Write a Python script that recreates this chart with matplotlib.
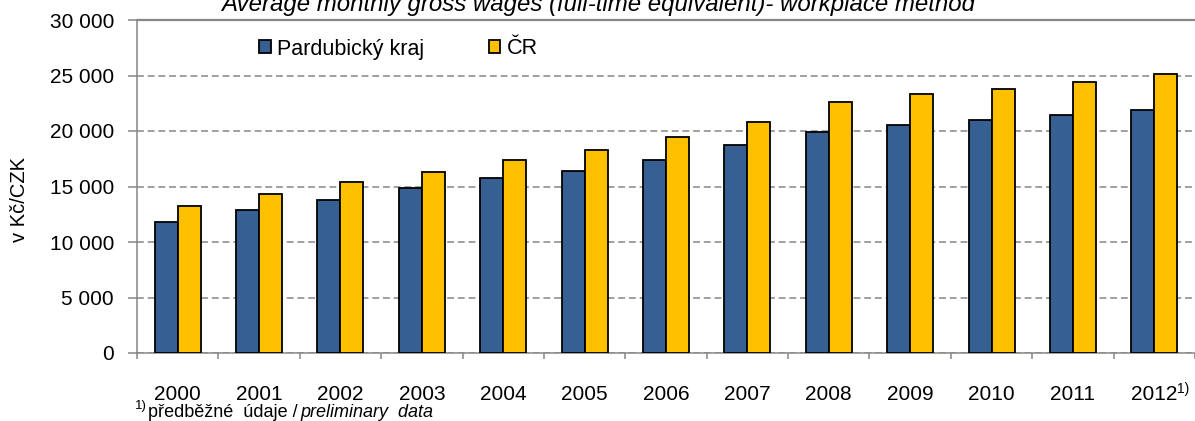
import numpy as np
import matplotlib
matplotlib.use("Agg")
from matplotlib import pyplot as plt

years = ["2000", "2001", "2002", "2003", "2004", "2005", "2006",
         "2007", "2008", "2009", "2010", "2011", "2012"]
pardubice = [11800, 12900, 13800, 14900, 15800, 16400, 17400,
             18700, 19900, 20500, 21000, 21400, 21900]
cr = [13200, 14300, 15400, 16300, 17400, 18300, 19500,
      20800, 22600, 23300, 23800, 24400, 25100]
yticks = [0, 5000, 10000, 15000, 20000, 25000, 30000]
ytick_labels = ["0", "5 000", "10 000", "15 000", "20 000", "25 000", "30 000"]

plt.rcParams["font.family"] = ["Liberation Sans", "DejaVu Sans"]

GREY = "#868686"
W, H = 1195, 421

fig = plt.figure(figsize=(W / 100, H / 100), dpi=100)
ax = fig.add_axes([137 / W, 68 / H, 1058 / W, 333 / H])

x = np.arange(len(years))
w = 0.283
ax.bar(x - w / 2, pardubice, w, color="#376092", edgecolor="black",
       linewidth=1.3, label="Pardubický kraj", zorder=3)
ax.bar(x + w / 2, cr, w, color="#FFC000", edgecolor="black",
       linewidth=1.3, label="ČR", zorder=3)

ax.set_xlim(-0.5, len(years) - 0.5)
ax.set_ylim(0, 30000)
ax.set_yticks(yticks, ytick_labels)
ax.set_xticks(x, years)
ax.set_xticks(np.arange(len(years) + 1) - 0.5, minor=True)
ax.tick_params(axis="x", which="major", length=0, pad=23, labelsize=15)
ax.tick_params(axis="x", which="minor", length=4, color=GREY, width=1.1)
ax.tick_params(axis="y", length=6.5, color=GREY, width=1.1, pad=10,
               labelsize=15)

ax.yaxis.grid(True, color=GREY, linestyle=(0, (4.5, 2.5)), linewidth=1.1)
ax.set_axisbelow(True)

for side in ["left", "bottom"]:
    ax.spines[side].set_color(GREY)
    ax.spines[side].set_linewidth(1.1)
ax.spines["top"].set_color(GREY)
ax.spines["top"].set_linewidth(1.6)
ax.spines["right"].set_visible(False)

# superscript on last year
ax.annotate("1)", xy=(12, 0), xycoords=ax.get_xaxis_transform(),
            xytext=(16, -21), textcoords="offset points",
            ha="left", va="top", fontsize=10)

ax.legend(loc="center left", bbox_to_anchor=(259 / W, 1 - 49 / H),
          bbox_transform=fig.transFigure, ncol=2, frameon=False,
          fontsize=15.5, handlelength=0.55, handleheight=0.55,
          handletextpad=0.28, columnspacing=3.0, borderpad=0,
          borderaxespad=0)

fig.text(598 / W, 1 - 11 / H,
         "Average monthly gross wages (full-time equivalent)- workplace method",
         ha="center", va="baseline", style="italic", fontsize=17.3)

fig.text(19.5 / W, 1 - 200 / H, "v Kč/CZK", rotation=90,
         ha="center", va="center", fontsize=14.5)

# footnote
fig.text(135 / W, 1 - 406 / H, "1)", fontsize=9.5, ha="left", va="center")
t1 = fig.text(148 / W, 1 - 421 / H, "předběžné  údaje /", fontsize=13,
              ha="left", va="bottom")
ax.annotate("preliminary  data", xy=(1, 0), xycoords=t1,
            xytext=(2, 0), textcoords="offset points",
            ha="left", va="bottom", fontsize=13, style="italic",
            annotation_clip=False)

fig.savefig("out.png", dpi=100)
